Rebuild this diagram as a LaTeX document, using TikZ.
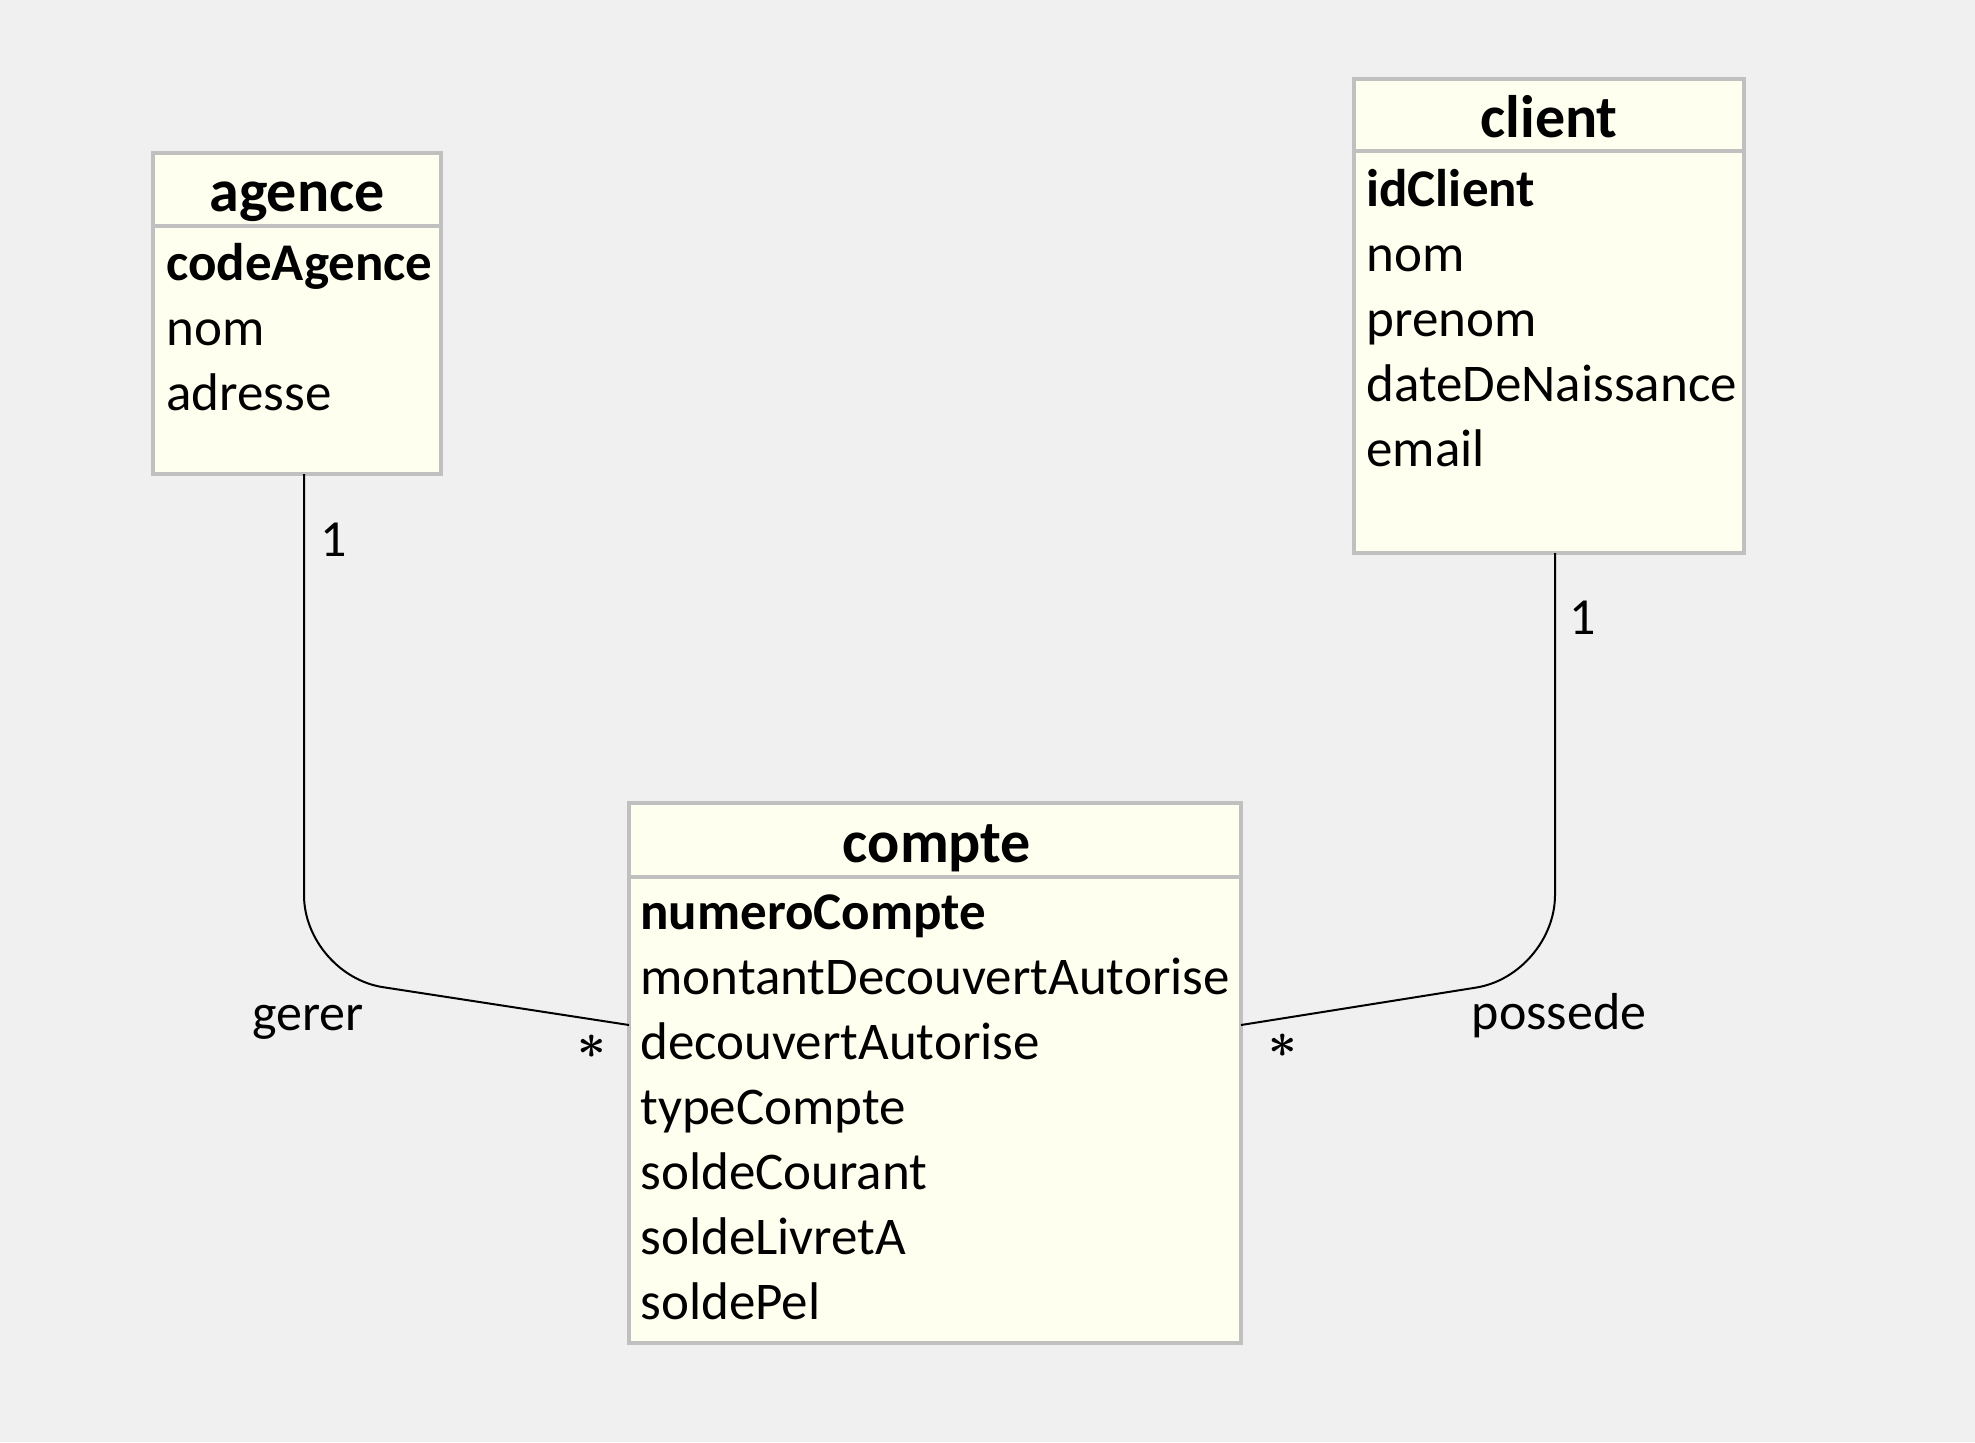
\documentclass[tikz,border=0pt]{standalone}
\usepackage{fontspec}
\setmainfont{Carlito}
\definecolor{bg}{HTML}{F0F0F0}
\definecolor{boxfill}{HTML}{FFFFF0}
\definecolor{boxline}{HTML}{C0C0C0}
\begin{document}
\begin{tikzpicture}[x=0.5pt,y=-0.5pt,
  box/.style={draw=boxline, fill=boxfill, line width=2pt, inner sep=0pt, outer sep=0pt, anchor=north west, rectangle},
  divider/.style={draw=boxline, line width=2pt},
  title/.style={font=\fontsize{30}{36}\selectfont\bfseries, anchor=base, inner sep=0pt},
  attr/.style={font=\fontsize{26.5}{31}\selectfont, anchor=base west, inner sep=0pt},
  keyattr/.style={font=\fontsize{26.5}{31}\selectfont\bfseries, anchor=base west, inner sep=0pt},
  lbl/.style={font=\fontsize{26}{31}\selectfont, inner sep=0pt},
  star/.style={font=\fontsize{25}{30}\selectfont\boldmath, inner sep=0pt},
  conn/.style={draw=black, line width=1pt, rounded corners=40pt}]
\fill[bg] (0,0) rectangle (1975,1442);
% agence
\node[box, minimum width=144pt, minimum height=160.5pt] (agence) at (153,153) {};
\draw[divider] (153,226) -- (441,226);
\node[title] (agenceT) at (297,211) {agence};
\node[keyattr] (a1) at (166,280) {codeAgence};
\node[attr] (a2) at (166,345) {nom};
\node[attr] (a3) at (166,410) {adresse};
% client
\node[box, minimum width=195pt, minimum height=237pt] (client) at (1354,79) {};
\draw[divider] (1354,151) -- (1744,151);
\node[title] (clientT) at (1549,137) {client};
\node[keyattr] (c1) at (1366,206) {idClient};
\node[attr] (c2) at (1366,271) {nom};
\node[attr] (c3) at (1366,336) {prenom};
\node[attr] (c4) at (1366,401) {dateDeNaissance};
\node[attr] (c5) at (1366,466) {email};
% compte
\node[box, minimum width=306pt, minimum height=270pt] (compte) at (629,803) {};
\draw[divider] (629,877) -- (1241,877);
\node[title] (compteT) at (937,862) {compte};
\node[keyattr] (k1) at (640,929) {numeroCompte};
\node[attr] (k2) at (640,994) {montantDecouvertAutorise};
\node[attr] (k3) at (640,1059) {decouvertAutorise};
\node[attr] (k4) at (640,1124) {typeCompte};
\node[attr] (k5) at (640,1189) {soldeCourant};
\node[attr] (k6) at (640,1254) {soldeLivretA};
\node[attr] (k7) at (640,1319) {soldePel};
% connectors
\coordinate (gcorner) at (304,975);
\coordinate (gend) at (627,1025);
\coordinate (pcorner) at (1555,975);
\coordinate (pend) at (1243,1025);
\draw[conn] (gcorner |- agence.south) -- (gcorner) -- (compte.west |- gend);
\draw[conn] (pcorner |- client.south) -- (pcorner) -- (compte.east |- pend);
% labels
\node[lbl, anchor=base] (m1) at (334,556) {1};
\node[lbl, anchor=base] (m2) at (1583,634) {1};
\node[lbl, anchor=base] (gerer) at (308,1030) {gerer};
\node[lbl, anchor=base] (possede) at (1559,1029) {possede};
\node[star] (s1) at (592,1047) {$\ast$};
\node[star] (s2) at (1283,1046) {$\ast$};
\end{tikzpicture}
\end{document}
